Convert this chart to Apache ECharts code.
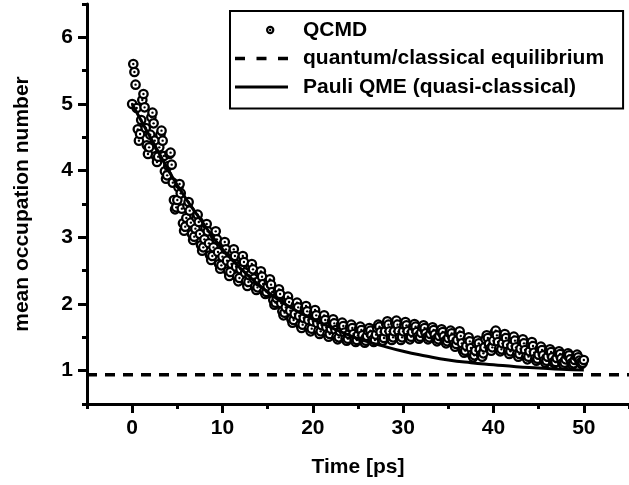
<!DOCTYPE html>
<html>
<head>
<meta charset="utf-8">
<script src="https://cdn.jsdelivr.net/npm/echarts@6/dist/echarts.min.js"></script>
<style>
  html, body { margin: 0; padding: 0; background: #fff; }
  #chart { width: 629px; height: 485px; }
</style>
</head>
<body>
<div id="chart"></div>
<script>
// ---- data ----
const qcmdTime = [
  0,0.125,0.25,0.375,0.5,0.625,0.75,0.875, 1,1.125,1.25,1.375,1.5,1.625,1.75,1.875,
  2,2.125,2.25,2.375,2.5,2.625,2.75,2.875, 3,3.125,3.25,3.375,3.5,3.625,3.75,3.875,
  4,4.125,4.25,4.375,4.5,4.625,4.75,4.875, 5,5.125,5.25,5.375,5.5,5.625,5.75,5.875,
  6,6.125,6.25,6.375,6.5,6.625,6.75,6.875, 7,7.125,7.25,7.375,7.5,7.625,7.75,7.875,
  8,8.125,8.25,8.375,8.5,8.625,8.75,8.875, 9,9.125,9.25,9.375,9.5,9.625,9.75,9.875,
  10,10.125,10.25,10.375,10.5,10.625,10.75,10.875, 11,11.125,11.25,11.375,11.5,11.625,11.75,11.875,
  12,12.125,12.25,12.375,12.5,12.625,12.75,12.875, 13,13.125,13.25,13.375,13.5,13.625,13.75,13.875,
  14,14.125,14.25,14.375,14.5,14.625,14.75,14.875, 15,15.125,15.25,15.375,15.5,15.625,15.75,15.875,
  16,16.125,16.25,16.375,16.5,16.625,16.75,16.875, 17,17.125,17.25,17.375,17.5,17.625,17.75,17.875,
  18,18.125,18.25,18.375,18.5,18.625,18.75,18.875, 19,19.125,19.25,19.375,19.5,19.625,19.75,19.875,
  20,20.125,20.25,20.375,20.5,20.625,20.75,20.875, 21,21.125,21.25,21.375,21.5,21.625,21.75,21.875,
  22,22.125,22.25,22.375,22.5,22.625,22.75,22.875, 23,23.125,23.25,23.375,23.5,23.625,23.75,23.875,
  24,24.125,24.25,24.375,24.5,24.625,24.75,24.875, 25,25.125,25.25,25.375,25.5,25.625,25.75,25.875,
  26,26.125,26.25,26.375,26.5,26.625,26.75,26.875, 27,27.125,27.25,27.375,27.5,27.625,27.75,27.875,
  28,28.125,28.25,28.375,28.5,28.625,28.75,28.875, 29,29.125,29.25,29.375,29.5,29.625,29.75,29.875,
  30,30.125,30.25,30.375,30.5,30.625,30.75,30.875, 31,31.125,31.25,31.375,31.5,31.625,31.75,31.875,
  32,32.125,32.25,32.375,32.5,32.625,32.75,32.875, 33,33.125,33.25,33.375,33.5,33.625,33.75,33.875,
  34,34.125,34.25,34.375,34.5,34.625,34.75,34.875, 35,35.125,35.25,35.375,35.5,35.625,35.75,35.875,
  36,36.125,36.25,36.375,36.5,36.625,36.75,36.875, 37,37.125,37.25,37.375,37.5,37.625,37.75,37.875,
  38,38.125,38.25,38.375,38.5,38.625,38.75,38.875, 39,39.125,39.25,39.375,39.5,39.625,39.75,39.875,
  40,40.125,40.25,40.375,40.5,40.625,40.75,40.875, 41,41.125,41.25,41.375,41.5,41.625,41.75,41.875,
  42,42.125,42.25,42.375,42.5,42.625,42.75,42.875, 43,43.125,43.25,43.375,43.5,43.625,43.75,43.875,
  44,44.125,44.25,44.375,44.5,44.625,44.75,44.875, 45,45.125,45.25,45.375,45.5,45.625,45.75,45.875,
  46,46.125,46.25,46.375,46.5,46.625,46.75,46.875, 47,47.125,47.25,47.375,47.5,47.625,47.75,47.875,
  48,48.125,48.25,48.375,48.5,48.625,48.75,48.875, 49,49.125,49.25,49.375,49.5,49.625,49.75,49.875,
  50
];
const qcmdValue = [
  5.00,5.60,5.48,5.29,4.94,4.62,4.45,4.55, 4.76,5.06,5.15,4.95,4.64,4.38,4.25,4.35,
  4.54,4.80,4.87,4.71,4.45,4.22,4.13,4.21, 4.35,4.54,4.60,4.45,4.22,3.99,3.88,3.93,
  4.07,4.25,4.27,4.09,3.82,3.56,3.42,3.45, 3.56,3.75,3.80,3.66,3.43,3.21,3.10,3.16,
  3.29,3.47,3.53,3.40,3.22,3.05,2.96,3.01, 3.13,3.29,3.34,3.23,3.05,2.88,2.80,2.85,
  2.97,3.14,3.20,3.09,2.91,2.73,2.66,2.72, 2.85,3.04,3.09,2.97,2.78,2.60,2.53,2.58,
  2.71,2.88,2.93,2.82,2.65,2.49,2.42,2.48, 2.60,2.77,2.82,2.72,2.56,2.41,2.34,2.39,
  2.52,2.68,2.72,2.63,2.47,2.34,2.27,2.33, 2.43,2.56,2.60,2.52,2.38,2.26,2.21,2.25,
  2.34,2.46,2.49,2.41,2.30,2.19,2.15,2.18, 2.26,2.34,2.37,2.29,2.18,2.06,1.99,2.02,
  2.09,2.19,2.22,2.15,2.01,1.89,1.83,1.87, 1.95,2.07,2.11,2.03,1.90,1.77,1.72,1.76,
  1.85,1.98,2.02,1.95,1.82,1.69,1.64,1.69, 1.79,1.93,1.97,1.89,1.76,1.64,1.59,1.63,
  1.74,1.87,1.91,1.83,1.71,1.60,1.55,1.59, 1.68,1.79,1.83,1.76,1.65,1.55,1.51,1.55,
  1.63,1.74,1.77,1.71,1.61,1.51,1.47,1.50, 1.59,1.69,1.72,1.67,1.57,1.48,1.45,1.48,
  1.55,1.65,1.69,1.64,1.55,1.46,1.43,1.46, 1.53,1.63,1.66,1.61,1.53,1.45,1.42,1.45,
  1.52,1.60,1.64,1.60,1.53,1.46,1.43,1.46, 1.54,1.64,1.69,1.66,1.58,1.48,1.45,1.49,
  1.59,1.70,1.74,1.69,1.59,1.49,1.46,1.50, 1.59,1.71,1.75,1.69,1.59,1.50,1.46,1.50,
  1.59,1.69,1.73,1.68,1.59,1.50,1.47,1.51, 1.58,1.67,1.70,1.66,1.58,1.51,1.48,1.51,
  1.57,1.65,1.68,1.64,1.56,1.50,1.47,1.50, 1.55,1.62,1.65,1.61,1.54,1.47,1.44,1.47,
  1.52,1.59,1.62,1.58,1.51,1.44,1.41,1.44, 1.49,1.57,1.60,1.56,1.48,1.40,1.36,1.40,
  1.46,1.56,1.59,1.52,1.41,1.30,1.27,1.30, 1.37,1.47,1.50,1.44,1.34,1.24,1.20,1.23,
  1.30,1.41,1.45,1.41,1.32,1.24,1.21,1.26, 1.35,1.47,1.53,1.49,1.40,1.33,1.30,1.35,
  1.45,1.57,1.60,1.53,1.43,1.33,1.29,1.32, 1.41,1.52,1.55,1.49,1.39,1.29,1.25,1.29,
  1.37,1.48,1.51,1.45,1.35,1.25,1.21,1.25, 1.33,1.44,1.47,1.41,1.31,1.21,1.17,1.21,
  1.29,1.40,1.43,1.37,1.27,1.18,1.15,1.18, 1.24,1.33,1.36,1.31,1.23,1.15,1.12,1.15,
  1.21,1.30,1.32,1.28,1.20,1.13,1.11,1.13, 1.19,1.27,1.29,1.25,1.18,1.11,1.09,1.12,
  1.17,1.24,1.26,1.23,1.17,1.11,1.09,1.11, 1.16,1.22,1.24,1.20,1.15,1.12,1.10,1.12,
  1.16
];
const pauliTime  = [0, 2.5, 5, 7.5, 10, 12.5, 15, 17.5, 20, 22.5, 25, 27.5, 30, 32.5, 35, 37.5, 40, 42.5, 45, 47.5, 50];
const pauliValue = [5.00, 4.38, 3.78, 3.28, 2.82, 2.47, 2.18, 1.95, 1.77, 1.62, 1.48, 1.38, 1.29, 1.22, 1.16, 1.12, 1.09, 1.06, 1.04, 1.02, 1.01];
const equilibriumTime  = [-5, 55];
const equilibriumValue = [0.94, 0.94];
const xMajorTicks = [0, 10, 20, 30, 40, 50];
const xMinorTicks = [-5, 5, 15, 25, 35, 45, 55];
const yMajorTicks = [1, 2, 3, 4, 5, 6];
const yMinorTicks = [0.5, 1.5, 2.5, 3.5, 4.5, 5.5, 6.5];
const seriesNames = ['QCMD', 'quantum/classical equilibrium', 'Pauli QME (quasi-classical)'];

// ---- chart ----
const FONT = '"Liberation Sans", Arial, Helvetica, sans-serif';
const chart = echarts.init(document.getElementById('chart'), null, { renderer: 'canvas' });

const zip = (a, b) => a.map((v, i) => [v, b[i]]);

const axisLineStyle = { color: '#000', width: 3 };
const baseX = { type: 'value', min: -5, max: 55, splitLine: { show: false } };
const baseY = { type: 'value', min: 0.5, max: 6.5, splitLine: { show: false } };

// legend icons (53 x 14 boxes)
const ringIcon = 'path://M0,0 M53,14 ' +
  'M31,7 a4.2,4.2 0 1,0 8.4,0 a4.2,4.2 0 1,0 -8.4,0 Z ' +
  'M33.2,7 a2,2 0 1,1 4,0 a2,2 0 1,1 -4,0 Z ' +
  'M34,7 a1.2,1.2 0 1,0 2.4,0 a1.2,1.2 0 1,0 -2.4,0 Z';
const dashIcon = 'path://M0,0 M53,14 M0,5.25 L10,5.25 L10,8.75 L0,8.75 Z M21.5,5.25 L31.5,5.25 L31.5,8.75 L21.5,8.75 Z M43,5.25 L53,5.25 L53,8.75 L43,8.75 Z';
const solidIcon = 'path://M0,0 M53,14 M0,5.5 L53,5.5 L53,8.5 L0,8.5 Z';

const option = {
  backgroundColor: '#fff',
  animation: false,
  grid: { left: 87, right: 0, top: 4, bottom: 81, containLabel: false },
  xAxis: [
    Object.assign({}, baseX, {
      name: 'Time [ps]', nameLocation: 'middle', nameGap: 53,
      nameTextStyle: { fontFamily: FONT, fontWeight: 'bold', fontSize: 21, color: '#000' },
      axisLine: { show: true, onZero: false, lineStyle: axisLineStyle },
      axisTick: { show: true, inside: false, length: 9, lineStyle: { color: '#000', width: 3 }, customValues: xMajorTicks },
      axisLabel: { show: true, margin: 14, fontFamily: FONT, fontWeight: 'bold', fontSize: 21, color: '#000', customValues: xMajorTicks }
    }),
    Object.assign({}, baseX, {
      position: 'bottom',
      axisLine: { show: false, onZero: false },
      axisTick: { show: true, inside: false, length: 5, lineStyle: { color: '#000', width: 3 }, customValues: xMinorTicks },
      axisLabel: { show: false }
    })
  ],
  yAxis: [
    Object.assign({}, baseY, {
      name: 'mean occupation number', nameLocation: 'middle', nameGap: 54,
      nameTextStyle: { fontFamily: FONT, fontWeight: 'bold', fontSize: 21, color: '#000' },
      axisLine: { show: true, onZero: false, lineStyle: axisLineStyle },
      axisTick: { show: true, inside: false, length: 9, lineStyle: { color: '#000', width: 3 }, customValues: yMajorTicks },
      axisLabel: { show: true, margin: 14, fontFamily: FONT, fontWeight: 'bold', fontSize: 21, color: '#000', customValues: yMajorTicks }
    }),
    Object.assign({}, baseY, {
      position: 'left',
      axisLine: { show: false, onZero: false },
      axisTick: { show: true, inside: false, length: 5, lineStyle: { color: '#000', width: 3 }, customValues: yMinorTicks },
      axisLabel: { show: false }
    })
  ],
  legend: {
    orient: 'vertical',
    left: 230, top: 11,
    padding: [8.5, 19, 11, 5],
    itemGap: 7.5,
    itemWidth: 53, itemHeight: 14,
    borderColor: '#000', borderWidth: 2, borderRadius: 0,
    backgroundColor: '#fff',
    textStyle: { fontFamily: FONT, fontWeight: 'bold', fontSize: 21, color: '#000', padding: [0, 0, 0, 10] },
    data: [
      { name: seriesNames[0], icon: ringIcon, itemStyle: { color: '#000' } },
      { name: seriesNames[1], icon: dashIcon, itemStyle: { color: '#000' } },
      { name: seriesNames[2], icon: solidIcon, itemStyle: { color: '#000' } }
    ]
  },
  series: [
    {
      name: seriesNames[0],
      type: 'custom',
      xAxisIndex: 0, yAxisIndex: 0,
      data: zip(qcmdTime, qcmdValue),
      itemStyle: { color: '#000' },
      z: 2,
      renderItem: function (params, api) {
        const p = api.coord([api.value(0), api.value(1)]);
        return {
          type: 'group',
          children: [
            { type: 'circle', shape: { cx: p[0], cy: p[1], r: 4.2 }, style: { fill: '#fff', stroke: '#000', lineWidth: 2.3 } },
            { type: 'circle', shape: { cx: p[0], cy: p[1], r: 1.2 }, style: { fill: '#000', stroke: null } }
          ]
        };
      }
    },
    {
      name: seriesNames[1],
      type: 'line',
      xAxisIndex: 0, yAxisIndex: 0,
      data: zip(equilibriumTime, equilibriumValue),
      symbol: 'none',
      z: 3,
      itemStyle: { color: '#000' },
      lineStyle: { color: '#000', width: 3.5, type: [10, 8] }
    },
    {
      name: seriesNames[2],
      type: 'line',
      xAxisIndex: 0, yAxisIndex: 0,
      data: zip(pauliTime, pauliValue),
      symbol: 'none',
      smooth: true,
      z: 4,
      itemStyle: { color: '#000' },
      lineStyle: { color: '#000', width: 3 }
    }
  ]
};
chart.setOption(option);
</script>
</body>
</html>
